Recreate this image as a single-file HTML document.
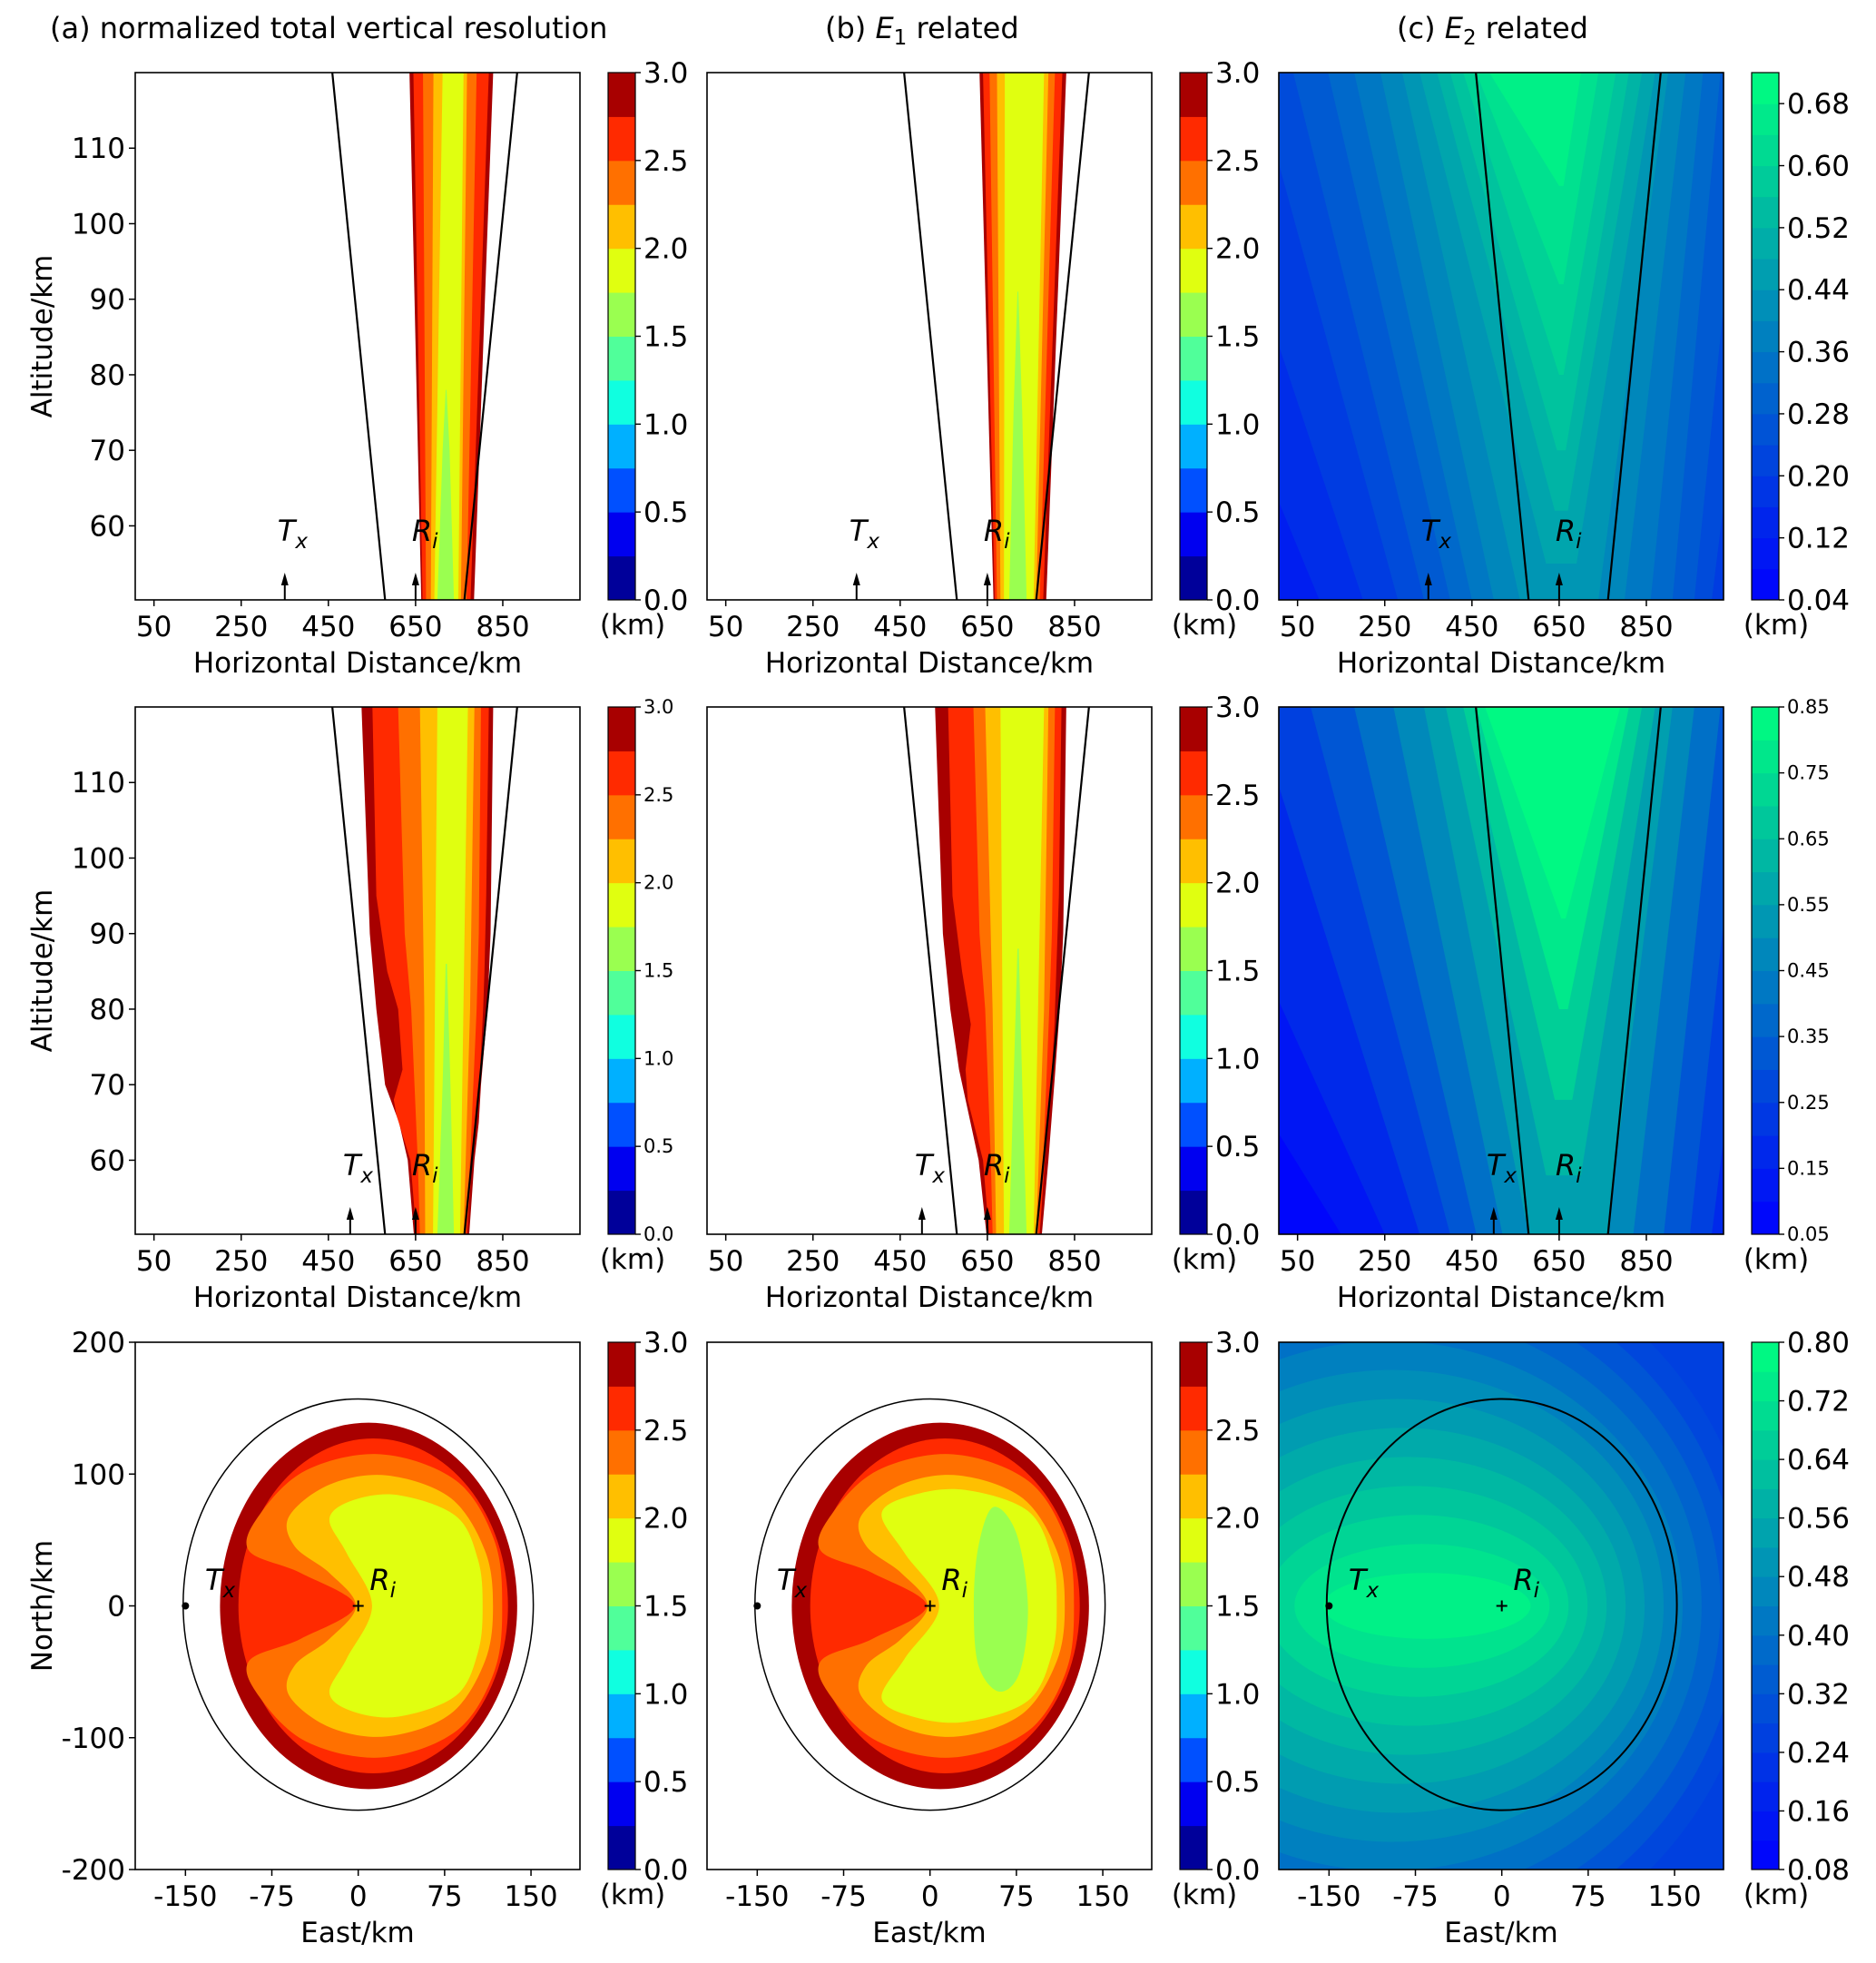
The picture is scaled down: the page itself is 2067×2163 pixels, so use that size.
<!DOCTYPE html>
<html><head><meta charset="utf-8"><style>
html,body{margin:0;padding:0;background:#fff;}
svg{display:block;font-family:"DejaVu Sans","Liberation Sans",sans-serif;}
</style></head><body>
<svg id="fig" xmlns="http://www.w3.org/2000/svg" width="2067" height="2163" viewBox="0 0 2067 2163"></svg>
<script>
// ---------- data ----------
const xTicksH = [50,250,450,650,850];
const yTicksAlt = [60,70,80,90,100,110];
const xTicksE = [-150,-75,0,75,150];
const yTicksN = [200,100,0,-100,-200];
const jetTicks = ["0.0","0.5","1.0","1.5","2.0","2.5","3.0"];
const jetColors = ["#00009a","#0000f0","#0050ff","#00b0ff","#10ffe0","#50ff9a","#9aff50","#e0ff10","#ffbf00","#ff7000","#ff2a00","#a80000"];
const c1Ticks = ["0.04","0.12","0.20","0.28","0.36","0.44","0.52","0.60","0.68"];
const c2Ticks = ["0.05","0.15","0.25","0.35","0.45","0.55","0.65","0.75","0.85"];
const c3Ticks = ["0.08","0.16","0.24","0.32","0.40","0.48","0.56","0.64","0.72","0.80"];
const rayLeft = [[459,120],[580,50.2]];
const rayRight = [[883,120],[762,50.2]];
const txPos = [350,500];
const riPos = 650;
const bandLevels = [11,10,9,8,7,6];
const bandsA1 = [
 [[120,636,828],[50.2,663,784]],
 [[120,645,818],[50.2,666,776]],
 [[120,667,790],[50.2,674,767]],
 [[120,691,768],[50.2,685,754]],
 [[120,712,760],[50.2,693,748]],
 [[78,719,721],[70,712,728],[50.2,700,738]]];
const bandsB1 = [
 [[120,632,831],[50.2,664,785]],
 [[120,640,822],[50.2,667,778]],
 [[120,655,805],[50.2,672,770]],
 [[120,672,790],[50.2,680,762]],
 [[120,690,780],[50.2,688,756]],
 [[91,719,721],[75,710,730],[50.2,700,740]]];
const bandsA2 = [
 [[120,526,828],[90,545,822],[80,560,815],[70,580,800],[65,612,795],[60,632,785],[50.2,646,773]],
 [[120,551,818],[95,560,812],[85,585,808],[80,610,805],[72,620,798],[68,600,792],[66,606,790],[60,638,780],[50.2,652,768]],
 [[120,610,800],[90,625,795],[80,640,790],[60,655,775],[50.2,660,765]],
 [[120,660,785],[80,670,775],[50.2,672,760]],
 [[120,700,770],[50.2,690,752]],
 [[86,719,722],[70,712,730],[50.2,700,738]]];
const bandsB2 = [
 [[120,530,831],[90,548,824],[80,565,816],[72,585,806],[60,630,790],[50.2,648,775]],
 [[120,560,820],[95,570,814],[85,592,808],[78,612,804],[72,600,798],[68,605,792],[60,640,782],[50.2,654,770]],
 [[120,618,805],[90,632,798],[80,645,792],[60,658,778],[50.2,662,766]],
 [[120,645,790],[80,662,780],[50.2,670,762]],
 [[120,680,780],[50.2,688,756]],
 [[88,719,722],[70,710,730],[50.2,700,740]]];
// E2 vertical fans: [value, altBottom, xlBottom, xrBottom, xlTop, xrTop]
const fanC1 = [[0.16,50.2,100,1100,-400,1400],[0.20,50.2,200,1050,-200,1300],[0.24,50.2,280,1000,-50,1150],[0.28,50.2,340,960,40,1080],[0.32,50.2,400,910,120,1020],[0.36,50.2,450,860,180,980],[0.40,50.2,500,800,240,940],[0.44,50.2,560,740,290,900],[0.48,55,620,690,330,870],[0.52,62,640,670,370,840],[0.56,70,645,665,400,810],[0.60,80,650,660,430,780],[0.64,92,650,660,460,740],[0.68,105,650,660,490,700]];
const fanC2 = [[0.12,50.2,150,1100,-600,1500],[0.18,50.2,250,1050,-300,1300],[0.25,50.2,330,1000,-50,1150],[0.32,50.2,400,950,80,1080],[0.40,50.2,460,890,180,1020],[0.48,50.2,520,820,270,960],[0.55,50.2,580,760,340,910],[0.62,58,620,700,390,870],[0.70,68,640,680,430,840],[0.78,80,650,670,460,810],[0.83,92,655,665,480,790]];
const ellDR = [9,0,129,139];
const ellR = [13,0,117,127];
const shapeOrangeA = [[20,115],[85,95],[118,50],[125,0],[118,-50],[85,-95],[20,-115],[-45,-103],[-85,-70],[-95,-42],[-50,-25],[-3,0],[-50,25],[-95,42],[-85,70],[-45,103]];
const shapeYOA = [[25,99],[80,82],[110,42],[117,0],[110,-42],[80,-82],[25,-99],[-25,-92],[-60,-68],[-55,-45],[-25,-25],[-2,0],[-25,25],[-55,45],[-60,68],[-25,92]];
const shapeYA = [[35,84],[85,68],[104,35],[108,0],[104,-35],[85,-68],[35,-84],[-5,-80],[-25,-66],[-10,-40],[12,0],[-10,40],[-25,66],[-5,80]];
const shapeYB = [[30,88],[85,72],[106,36],[110,0],[106,-36],[85,-72],[30,-88],[-15,-84],[-42,-70],[-22,-40],[8,0],[-22,40],[-42,70],[-15,84]];
const shapeGB = [[55,75],[75,55],[85,0],[78,-50],[60,-65],[42,-45],[38,0],[42,45]];
const e2Levels = [0.76,0.72,0.68,0.64,0.60,0.56,0.52,0.48,0.44,0.40,0.36,0.32,0.28];
const planEllipse = [0,1,152,156];

// ---------- layout ----------
const svg = document.getElementById('fig');
const NS = "http://www.w3.org/2000/svg";
const COLS = [149,779,1409], AW = 490;
const ROWS = [80,779,1479], AH = 581;
const FS = 31;
function el(tag, attrs, parent){const e=document.createElementNS(NS,tag);for(const k in attrs)e.setAttribute(k,attrs[k]);(parent||svg).appendChild(e);return e;}
function text(x,y,s,size,anchor,name,parent){const t=el('text',{x:x,y:y,'font-size':size,'text-anchor':anchor||'middle',fill:'#000'},parent);t.textContent=s;


return t;}
function winter(v){v=Math.max(0,Math.min(1,v));return 'rgb(0,'+Math.round(255*v)+','+Math.round(255*(1-0.5*v))+')';}
function axV(c,r){const L=COLS[c],T=ROWS[r];return {L:L,T:T,x:v=>L+(v-7)/(1027-7)*AW,y:v=>T+(120-v)/(120-50.2)*AH};}
function axP(c,r){const L=COLS[c],T=ROWS[r];return {L:L,T:T,x:v=>L+(v+193.6)/(192.5+193.6)*AW,y:v=>T+(200-v)/400*AH};}
function clipFor(c,r){const id='clip'+c+r;const cp=el('clipPath',{id:id});el('rect',{x:COLS[c],y:ROWS[r],width:AW,height:AH},cp);return 'url(#'+id+')';}
function smooth(pts){let d='';const n=pts.length;for(let i=0;i<n;i++){const p0=pts[(i-1+n)%n],p1=pts[i],p2=pts[(i+1)%n],p3=pts[(i+2)%n];
if(i===0)d+='M'+p1[0]+','+p1[1];
const c1=[p1[0]+(p2[0]-p0[0])/6,p1[1]+(p2[1]-p0[1])/6],c2=[p2[0]-(p3[0]-p1[0])/6,p2[1]-(p3[1]-p1[1])/6];
d+='C'+c1[0]+','+c1[1]+' '+c2[0]+','+c2[1]+' '+p2[0]+','+p2[1];}return d+'Z';}
function tx(g,x,y,sub,name){const t=el('text',{x:x,y:y,'font-size':32,'font-style':'italic',fill:'#000'},g);


const a=el('tspan',{},t);a.textContent=sub==='x'?'T':'R';const b=el('tspan',{dy:8,'font-size':23},t);b.textContent=sub;return t;}
function frame(c,r){el('rect',{x:COLS[c],y:ROWS[r],width:AW,height:AH,fill:'none',stroke:'#000','stroke-width':1.6});}

function vertTicks(c,r,g){const a=axV(c,r);
xTicksH.forEach(v=>{el('line',{x1:a.x(v),x2:a.x(v),y1:a.T+AH,y2:a.T+AH+7,stroke:'#000','stroke-width':1.5},g);text(a.x(v),a.T+AH+40,String(v),FS,'middle','x-tick-'+v,g);});
if(c===0)yTicksAlt.forEach(v=>{el('line',{x1:a.L-7,x2:a.L,y1:a.y(v),y2:a.y(v),stroke:'#000','stroke-width':1.5},g);text(a.L-11,a.y(v)+11,String(v),FS,'end','y-tick-'+v,g);});
text(a.L+AW/2,a.T+AH+80,'Horizontal Distance/km',FS,'middle','x-axis-title',g);
if(c===0){const t=text(46,a.T+AH/2+11,'Altitude/km',FS,'middle','y-axis-title',g);t.setAttribute('transform','rotate(-90 46 '+(a.T+AH/2)+')');}
}
function vertOverlay(c,r,txk,g){const a=axV(c,r);
const l1=el('line',{x1:a.x(rayLeft[0][0]),y1:a.y(rayLeft[0][1]),x2:a.x(rayLeft[1][0]),y2:a.y(rayLeft[1][1]),stroke:'#000','stroke-width':2.2},g);


const l2=el('line',{x1:a.x(rayRight[0][0]),y1:a.y(rayRight[0][1]),x2:a.x(rayRight[1][0]),y2:a.y(rayRight[1][1]),stroke:'#000','stroke-width':2.2},g);


[txPos[txk],riPos].forEach(v=>{const x=a.x(v),yb=a.y(50.2);el('line',{x1:x,x2:x,y1:yb,y2:yb-22,stroke:'#000','stroke-width':2},g);el('path',{d:'M'+(x-4)+','+(yb-16)+'L'+x+','+(yb-30)+'L'+(x+4)+','+(yb-16)+'Z',fill:'#000'},g);});
tx(g,a.x(txPos[txk])-8,a.y(58),'x','tx-label');tx(g,a.x(riPos)-4,a.y(58),'i','ri-label');}

function jetPanel(c,r,bands,txk){const g=el('g',{});


const a=axV(c,r);const gc=el('g',{'clip-path':clipFor(c,r)},g);
bands.forEach((b,i)=>{let d='';b.forEach((p,j)=>{d+=(j?'L':'M')+a.x(p[1])+','+a.y(p[0]);});for(let j=b.length-1;j>=0;j--)d+='L'+a.x(b[j][2])+','+a.y(b[j][0]);
const p=el('path',{d:d+'Z',fill:jetColors[bandLevels[i]]},gc);

});
vertOverlay(c,r,txk,g);frame(c,r);vertTicks(c,r,g);}

function fanPanel(c,r,fans,vmin,vmax,bg,txk){const g=el('g',{});


const a=axV(c,r);const gc=el('g',{'clip-path':clipFor(c,r)},g);
el('rect',{x:a.L,y:a.T,width:AW,height:AH,fill:winter((bg-vmin)/(vmax-vmin))},gc);
fans.forEach(f=>{const p=el('path',{d:'M'+a.x(f[2])+','+a.y(f[1])+'L'+a.x(f[4])+','+a.y(120)+'L'+a.x(f[5])+','+a.y(120)+'L'+a.x(f[3])+','+a.y(f[1])+(f[1]>50.3?'':'')+'Z',fill:winter((f[0]-vmin)/(vmax-vmin))},gc);

});
vertOverlay(c,r,txk,g);frame(c,r);vertTicks(c,r,g);}

function planTicks(c,r,g){const a=axP(c,r);
xTicksE.forEach(v=>{el('line',{x1:a.x(v),x2:a.x(v),y1:a.T+AH,y2:a.T+AH+7,stroke:'#000','stroke-width':1.5},g);text(a.x(v),a.T+AH+40,String(v),FS,'middle','x-tick-'+v,g);});
if(c===0)yTicksN.forEach(v=>{el('line',{x1:a.L-7,x2:a.L,y1:a.y(v),y2:a.y(v),stroke:'#000','stroke-width':1.5},g);text(a.L-11,a.y(v)+11,String(v),FS,'end','y-tick-'+v,g);});
text(a.L+AW/2,a.T+AH+80,'East/km',FS,'middle','x-axis-title',g);
if(c===0){const t=text(46,a.T+AH/2+11,'North/km',FS,'middle','y-axis-title',g);t.setAttribute('transform','rotate(-90 46 '+(a.T+AH/2)+')');}}
function planMarks(c,r,g){const a=axP(c,r);
el('circle',{cx:a.x(-150),cy:a.y(0),r:4,fill:'#000'},g);
el('path',{d:'M'+(a.x(0)-6)+','+a.y(0)+'h12M'+a.x(0)+','+(a.y(0)-6)+'v12',stroke:'#000','stroke-width':2},g);
tx(g,a.x(-133),a.y(12),'x','tx-label');tx(g,a.x(10),a.y(12),'i','ri-label');}
function planJet(c,r,yShape,gShape){const g=el('g',{});


const a=axP(c,r);const gc=el('g',{'clip-path':clipFor(c,r)},g);
const pe=planEllipse;el('ellipse',{cx:a.x(pe[0]),cy:a.y(pe[1]),rx:a.x(pe[2])-a.x(0),ry:a.y(0)-a.y(pe[3]),fill:'none',stroke:'#000','stroke-width':1.5},gc);
[[ellDR,11],[ellR,10]].forEach(e=>{el('ellipse',{cx:a.x(e[0][0]),cy:a.y(e[0][1]),rx:a.x(e[0][2])-a.x(0),ry:a.y(0)-a.y(e[0][3]),fill:jetColors[e[1]]},gc);});
[[shapeOrangeA,9],[shapeYOA,8],[yShape,7]].concat(gShape?[[gShape,6]]:[]).forEach(s=>{const p=el('path',{d:smooth(s[0].map(q=>[a.x(q[0]),a.y(q[1])])),fill:jetColors[s[1]]},gc);

});
planMarks(c,r,g);frame(c,r);planTicks(c,r,g);}
function planE2(c,r){const g=el('g',{});


const a=axP(c,r);const gc=el('g',{'clip-path':clipFor(c,r)},g);
el('rect',{x:a.L,y:a.T,width:AW,height:AH,fill:winter((0.26-0.08)/0.72)},gc);
for(let i=e2Levels.length-1;i>=0;i--){const k=i;const cx=-65-4.25*k,rx=90+20.75*k,ry=25+22*k;
const p=el('ellipse',{cx:a.x(cx),cy:a.y(0),rx:a.x(rx)-a.x(0),ry:a.y(0)-a.y(ry),fill:winter((e2Levels[i]-0.08)/0.72)},gc);

}
const pe=planEllipse;el('ellipse',{cx:a.x(pe[0]),cy:a.y(pe[1]),rx:a.x(pe[2])-a.x(0),ry:a.y(0)-a.y(pe[3]),fill:'none',stroke:'#000','stroke-width':2},gc);
planMarks(c,r,g);frame(c,r);planTicks(c,r,g);}

function jetBar(c,r,small){const g=el('g',{});


const x=COLS[c]+AW+31,T=ROWS[r],w=30,n=jetColors.length;
jetColors.forEach((col,i)=>{el('rect',{x:x,y:T+AH-(i+1)*AH/n,width:w,height:AH/n+0.5,fill:col},g);});
el('rect',{x:x,y:T,width:w,height:AH,fill:'none',stroke:'#000','stroke-width':1.2},g);
jetTicks.forEach((s,i)=>{const y=T+AH-i*AH/6;el('line',{x1:x+w,x2:x+w+6,y1:y,y2:y,stroke:'#000','stroke-width':1.4},g);text(x+w+9,y+(small?7:11),s,small?21:FS,'start','colorbar-tick',g);});
text(x+w/2+12,T+AH+38,'(km)',FS,'middle','colorbar-unit',g);}
function winterBar(c,r,ticks,vmin,vmax,step,small){const g=el('g',{});


const x=COLS[c]+AW+31,T=ROWS[r],w=30;const y=v=>T+AH-(v-vmin)/(vmax-vmin)*AH;
for(let v=vmin;v<vmax-1e-9;v+=step){el('rect',{x:x,y:y(v+step),width:w,height:y(v)-y(v+step)+0.5,fill:winter((v+step/2-vmin)/(vmax-vmin))},g);}
el('rect',{x:x,y:T,width:w,height:AH,fill:'none',stroke:'#000','stroke-width':1.2},g);
ticks.forEach(s=>{const yy=y(parseFloat(s));el('line',{x1:x+w,x2:x+w+6,y1:yy,y2:yy,stroke:'#000','stroke-width':1.4},g);text(x+w+9,yy+(small?7:11),s,small?21:FS,'start','colorbar-tick',g);});
text(x+w/2+12,T+AH+38,'(km)',FS,'middle','colorbar-unit',g);}

// titles
text(55,42,'(a)  normalized total vertical resolution',32,'start','title-a');
(function(){const t=text(909,42,'',32,'start','title-b');const a=el('tspan',{},t);a.textContent='(b) ';const b=el('tspan',{'font-style':'italic'},t);b.textContent='E';const s=el('tspan',{dy:7,'font-size':23},t);s.textContent='1';const d=el('tspan',{dy:-7},t);d.textContent=' related';})();
(function(){const t=text(1539,42,'',32,'start','title-c');const a=el('tspan',{},t);a.textContent='(c) ';const b=el('tspan',{'font-style':'italic'},t);b.textContent='E';const s=el('tspan',{dy:7,'font-size':23},t);s.textContent='2';const d=el('tspan',{dy:-7},t);d.textContent=' related';})();

jetPanel(0,0,bandsA1,0);jetBar(0,0,false);
jetPanel(1,0,bandsB1,0);jetBar(1,0,false);
fanPanel(2,0,fanC1,0.04,0.72,0.12,0);winterBar(2,0,c1Ticks,0.04,0.72,0.04,false);
jetPanel(0,1,bandsA2,1);jetBar(0,1,true);
jetPanel(1,1,bandsB2,1);jetBar(1,1,false);
fanPanel(2,1,fanC2,0.05,0.85,0.07,1);winterBar(2,1,c2Ticks,0.05,0.85,0.05,true);
planJet(0,2,shapeYA,null);jetBar(0,2,false);
planJet(1,2,shapeYB,shapeGB);jetBar(1,2,false);
planE2(2,2);winterBar(2,2,c3Ticks,0.08,0.80,0.04,false);
</script>
</body></html>
